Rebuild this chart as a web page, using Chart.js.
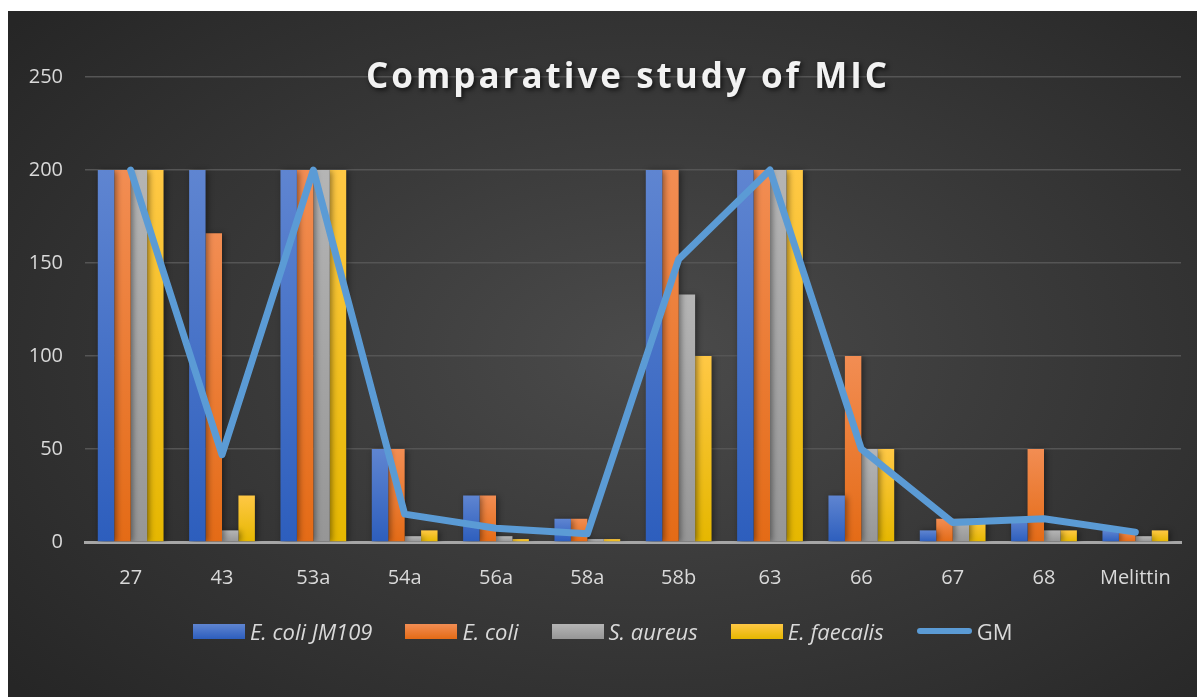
<!DOCTYPE html>
<html>
<head>
<meta charset="utf-8">
<script src="https://cdn.jsdelivr.net/npm/chart.js@4"></script>
<style>
    body { margin: 0; background: #fff; }
    #wrap {
        position: absolute; left: 8px; top: 11px; width: 1189px; height: 686px;
        background: radial-gradient(ellipse 70% 75% at 54% 50%, #4b4b4b 0%, #3a3a3a 45%, #262626 100%);
        overflow: hidden;
    }
    #micChart { position: absolute; left: 0; top: 0; }
    #legend {
        position: absolute; left: 185px; top: 605px;
        display: flex; align-items: center; gap: 33px;
        font-family: "Open Sans", sans-serif; font-size: 22px; color: #d9d9d9;
    }
    .item { display: flex; align-items: center; gap: 5px; }
    .box { width: 52px; height: 15px; }
    .line { width: 55px; height: 6px; border-radius: 3px; background: #5b9bd5; }
    .it { font-style: italic; }
</style>
</head>
<body>
<div id="wrap">
    <canvas id="micChart" width="1189" height="686"></canvas>
    <div id="legend"></div>
</div>
<script>
const labels = ["27", "43", "53a", "54a", "56a", "58a", "58b", "63", "66", "67", "68", "Melittin"];
const ecoliJM109 = [200, 200, 200, 50, 25, 12.5, 200, 200, 25, 6.25, 12.5, 6.25];
const ecoli = [200, 166, 200, 50, 25, 12.5, 200, 200, 100, 12.5, 50, 6.25];
const saureus = [200, 6.25, 200, 3.125, 3.125, 1.56, 133, 200, 50, 12.5, 6.25, 3.125];
const efaecalis = [200, 25, 200, 6.25, 1.56, 1.56, 100, 200, 50, 12.5, 6.25, 6.25];
const gm = [200, 47, 200, 15, 7.4, 4.4, 152, 200, 50, 10.5, 12.5, 5.3];
const yTicks = [0, 50, 100, 150, 200, 250];

const barNames = ["E. coli JM109", "E. coli", "S. aureus", "E. faecalis"];
const barSeries = [ecoliJM109, ecoli, saureus, efaecalis];
// top / bottom colour of each bar gradient
const barColors = [
    ["#5f85d1", "#2d5ebd"],
    ["#f28d53", "#e46b16"],
    ["#b5b5b5", "#969696"],
    ["#ffc845", "#e5b700"]
];

function barGradient(i) {
    return ctx => {
        const chart = ctx.chart;
        if (!chart.chartArea || ctx.raw === undefined) return barColors[i][1];
        const y = chart.scales.y;
        const top = y.getPixelForValue(ctx.raw);
        const bottom = y.getPixelForValue(0);
        const g = chart.ctx.createLinearGradient(0, top, 0, Math.max(bottom, top + 1));
        g.addColorStop(0, barColors[i][0]);
        g.addColorStop(1, barColors[i][1]);
        return g;
    };
}

const datasets = barSeries.map((d, i) => ({
    type: "bar",
    label: barNames[i],
    data: d,
    backgroundColor: barGradient(i),
    categoryPercentage: 0.72,
    barPercentage: 1.0,
    order: 1
}));
datasets.push({
    type: "line",
    label: "GM",
    data: gm,
    borderColor: "#5b9bd5",
    borderWidth: 7,
    borderCapStyle: "round",
    borderJoinStyle: "round",
    pointRadius: 0,
    tension: 0,
    order: 0
});

// soft shadow behind bars
const barShadow = {
    id: "barShadow",
    beforeDatasetDraw(chart, args) {
        if (chart.data.datasets[args.index].type !== "bar") return;
        const c = chart.ctx;
        c.save();
        c.shadowColor = "rgba(0,0,0,0.45)";
        c.shadowBlur = 6;
        c.shadowOffsetX = 2;
        c.shadowOffsetY = 1;
    },
    afterDatasetDraw(chart, args) {
        if (chart.data.datasets[args.index].type !== "bar") return;
        chart.ctx.restore();
    }
};

// title sits over the top gridline, so draw it by hand
const titlePlugin = {
    id: "bigTitle",
    afterDraw(chart) {
        const c = chart.ctx;
        c.save();
        c.font = "bold 35px 'Open Sans', sans-serif";
        c.letterSpacing = "3px";
        c.fillStyle = "#f2f2f2";
        c.textAlign = "center";
        c.textBaseline = "middle";
        c.shadowColor = "rgba(0,0,0,0.7)";
        c.shadowBlur = 5;
        c.shadowOffsetX = 2;
        c.shadowOffsetY = 2;
        c.fillText("Comparative study of MIC", 620, 67);
        c.restore();
    }
};

const tickFont = { family: "'Open Sans', sans-serif", size: 20 };

new Chart(document.getElementById("micChart"), {
    data: { labels: labels, datasets: datasets },
    options: {
        responsive: false,
        animation: false,
        layout: { padding: { top: 66, right: 16, left: 0, bottom: 0 } },
        scales: {
            x: {
                grid: { display: false },
                border: { display: true, color: "#a6a6a6", width: 3 },
                ticks: { color: "#d9d9d9", font: tickFont, padding: 16, maxRotation: 0 },
                afterFit: s => { s.height = 155; }
            },
            y: {
                min: 0,
                max: 250,
                afterBuildTicks: s => { s.ticks = yTicks.map(v => ({ value: v })); },
                grid: { color: "#555555", lineWidth: 1.5, drawTicks: false },
                border: { display: false },
                ticks: { color: "#d9d9d9", font: tickFont, padding: 22 },
                afterFit: s => { s.width = 77; }
            }
        },
        plugins: {
            legend: { display: false },
            title: { display: false },
            tooltip: { enabled: false }
        }
    },
    plugins: [barShadow, titlePlugin]
});

// legend with italic species names
const legendDiv = document.getElementById("legend");
barNames.forEach((name, i) => {
    legendDiv.insertAdjacentHTML("beforeend",
        `<div class="item"><div class="box" style="background:linear-gradient(${barColors[i][0]},${barColors[i][1]})"></div><span class="it">${name}</span></div>`);
});
legendDiv.insertAdjacentHTML("beforeend", `<div class="item"><div class="line"></div><span>GM</span></div>`);
</script>
</body>
</html>
